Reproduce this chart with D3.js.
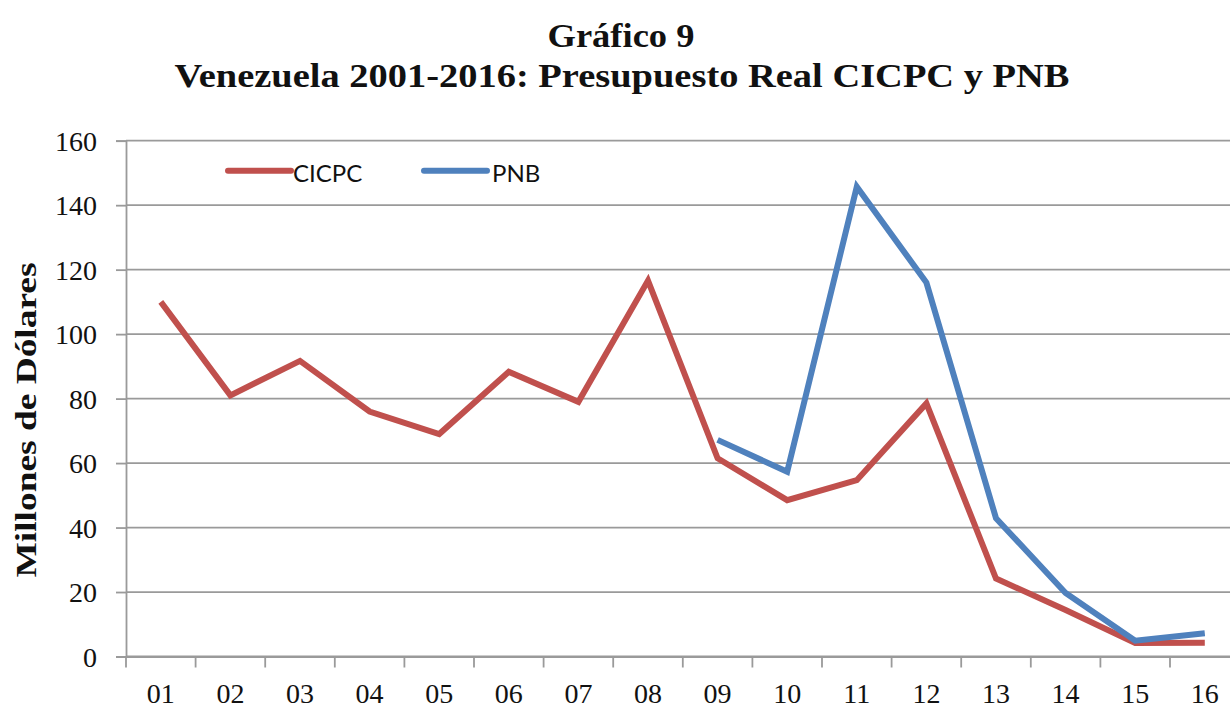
<!DOCTYPE html>
<html><head><meta charset="utf-8">
<script src="https://cdn.jsdelivr.net/npm/d3@7/dist/d3.min.js"></script>
<style>html,body{margin:0;padding:0;background:#fff;}svg{display:block;}</style>
</head><body>
<svg id="chart" width="1230" height="710"></svg>
<script>
const categories = ["01","02","03","04","05","06","07","08","09","10","11","12","13","14","15","16"];
const cicpc = [110, 81, 91.7, 76, 69, 88.3, 79, 116.6, 61.5, 48.5, 54.7, 78.5, 24.2, 14.4, 4.2, 4.3];
const pnb = [null, null, null, null, null, null, null, null, 67.2, 57.3, 145.7, 116, 42.9, 19.7, 4.9, 7.2];
const yTicks = [0, 20, 40, 60, 80, 100, 120, 140, 160];
const seriesNames = ["CICPC", "PNB"];
const seriesColors = ["#C0504D", "#4F81BD"];

const svg = d3.select("#chart");
const x0 = 126, bw = 69.6;
const x = d3.scaleBand().domain(categories).range([x0, x0 + bw * categories.length]).padding(0);
const y = d3.scaleLinear().domain([0, 160]).range([656.5, 140.7]);
const serif = "'Liberation Serif', 'DejaVu Serif', serif";

// gridlines
svg.append("g").selectAll("line").data(yTicks).join("line")
  .attr("x1", x0).attr("x2", 1230)
  .attr("y1", d => y(d)).attr("y2", d => y(d))
  .attr("stroke", "#9a9a9a").attr("stroke-width", 1.8);

// y axis
const yAxis = svg.append("g").attr("transform", `translate(${x0},0)`)
  .call(d3.axisLeft(y).tickValues(yTicks).tickSize(10).tickPadding(19).tickFormat(d3.format("d")));
yAxis.select(".domain").attr("stroke", "#9a9a9a").attr("stroke-width", 1.8);
yAxis.selectAll(".tick line").attr("stroke", "#9a9a9a").attr("stroke-width", 1.8);
yAxis.selectAll(".tick text").attr("font-family", serif).attr("font-size", 28).attr("fill", "#111").attr("dy", "0.34em");

// x axis
const xAxis = svg.append("g").attr("transform", `translate(0,${y(0)})`)
  .call(d3.axisBottom(x).tickSize(0).tickPadding(44));
xAxis.select(".domain").attr("stroke", "#9a9a9a").attr("stroke-width", 1.8);
xAxis.selectAll(".tick text").attr("font-family", serif).attr("font-size", 28).attr("fill", "#111").attr("dy", "0.1em");
// boundary tick marks
const bounds = categories.map(c => x(c)).concat([x(categories[categories.length-1]) + x.bandwidth()]);
svg.append("g").selectAll("line").data(bounds.filter(b => b <= 1230)).join("line")
  .attr("x1", d => d).attr("x2", d => d)
  .attr("y1", y(0)).attr("y2", y(0) + 11)
  .attr("stroke", "#9a9a9a").attr("stroke-width", 1.8);

// lines
const line = d3.line().defined(d => d.v !== null)
  .x(d => x(d.c) + x.bandwidth() / 2).y(d => y(d.v));
[cicpc, pnb].forEach((vals, i) => {
  svg.append("path")
    .datum(categories.map((c, j) => ({c, v: vals[j]})))
    .attr("d", line).attr("fill", "none")
    .attr("stroke", seriesColors[i]).attr("stroke-width", 6)
    .attr("stroke-linejoin", "miter").attr("stroke-linecap", "butt");
});

// legend
const legX = [228, 424], legTX = [293, 492];
seriesNames.forEach((n, i) => {
  svg.append("line").attr("x1", legX[i]).attr("x2", legX[i] + 63)
    .attr("y1", 170.7).attr("y2", 170.7)
    .attr("stroke", seriesColors[i]).attr("stroke-width", 6).attr("stroke-linecap", "round");
  svg.append("text").attr("x", legTX[i]).attr("y", 182)
    .attr("font-family", "Lato, 'Open Sans', sans-serif").attr("font-size", 24).attr("fill", "#111")
    .text(n);
});

// titles
svg.append("text").attr("x", 621).attr("y", 47).attr("text-anchor", "middle")
  .attr("font-family", serif).attr("font-weight", "bold").attr("font-size", 34).attr("fill", "#111")
  .attr("textLength", 147).attr("lengthAdjust", "spacingAndGlyphs")
  .text("Gráfico 9");
svg.append("text").attr("x", 622).attr("y", 87).attr("text-anchor", "middle")
  .attr("font-family", serif).attr("font-weight", "bold").attr("font-size", 34).attr("fill", "#111")
  .attr("textLength", 895).attr("lengthAdjust", "spacingAndGlyphs")
  .text("Venezuela 2001-2016: Presupuesto Real CICPC y PNB");

// y axis title
svg.append("text").attr("transform", "translate(36,420) rotate(-90)").attr("text-anchor", "middle")
  .attr("font-family", serif).attr("font-weight", "bold").attr("font-size", 30).attr("fill", "#111")
  .attr("textLength", 315).attr("lengthAdjust", "spacingAndGlyphs")
  .text("Millones de Dólares");
</script>
</body></html>
